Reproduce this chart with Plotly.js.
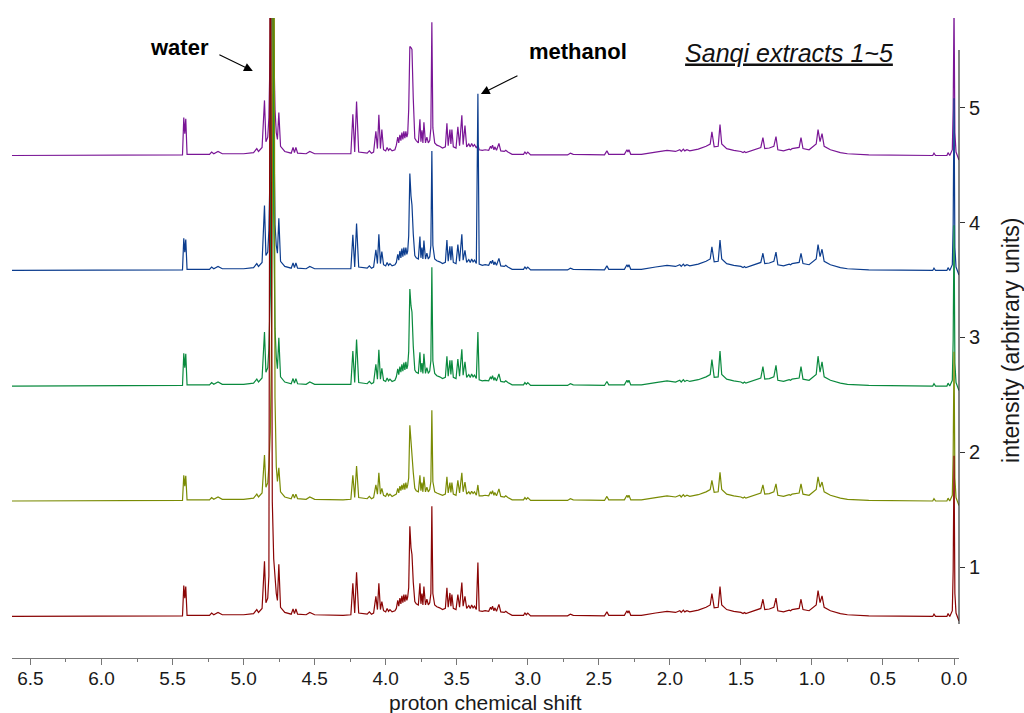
<!DOCTYPE html>
<html>
<head>
<meta charset="utf-8">
<script src="https://cdn.plot.ly/plotly-3.0.1.min.js"></script>
<style>html,body{margin:0;padding:0;background:#fff;}#chart{width:1024px;height:713px;}</style>
</head>
<body>
<div id="chart"></div>
<script>
// chemical shift (ppm) sample points shared by all spectra
const ppm = [6.63,5.43,5.421,5.414,5.407,5.398,5.24,5.225,5.21,5.18,
5.15,5.0,4.93,4.907,4.895,4.87,4.853,4.843,4.83,4.822,
4.812,4.805,4.798,4.788,4.779,4.77,4.762,4.752,4.74,4.71,
4.665,4.652,4.642,4.632,4.62,4.56,4.534,4.5,4.3,4.245,
4.231,4.218,4.205,4.19,4.13,4.115,4.1,4.085,4.069,4.058,
4.048,4.037,4.027,4.015,4.0,3.99,3.98,3.97,3.955,3.935,
3.925,3.915,3.908,3.9,3.893,3.886,3.879,3.872,3.865,3.858,
3.851,3.845,3.838,3.83,3.822,3.815,3.806,3.795,3.785,3.77,
3.759,3.752,3.745,3.738,3.731,3.72,3.71,3.7,3.69,3.682,
3.675,3.668,3.655,3.64,3.62,3.6,3.58,3.569,3.56,3.548,
3.541,3.534,3.524,3.505,3.492,3.48,3.464,3.455,3.442,3.43,
3.415,3.405,3.395,3.385,3.375,3.362,3.351,3.342,3.32,3.3,
3.275,3.262,3.255,3.248,3.238,3.232,3.22,3.203,3.19,3.165,
3.155,3.14,3.11,3.03,3.02,3.01,3.0,2.98,2.72,2.7,
2.68,2.46,2.443,2.43,2.32,2.302,2.295,2.288,2.275,2.2,
2.1,2.02,1.96,1.93,1.92,1.905,1.895,1.88,1.86,1.8,
1.745,1.716,1.704,1.688,1.66,1.647,1.635,1.6,1.55,1.5,
1.485,1.475,1.465,1.42,1.36,1.345,1.332,1.3,1.268,1.253,
1.24,1.2,1.16,1.15,1.14,1.09,1.077,1.063,1.02,0.97,
0.957,0.943,0.929,0.914,0.87,0.8,0.75,0.6,0.4,0.15,
0.141,0.13,0.05,0.042,0.03,0.012,0.006,0.0,-0.006,-0.014,
-0.035];

// intensities above each spectrum's own baseline (axis units)
const extract1 = [0,.005,.27,.16,.26,.01,.01,.03,.015,.035,
.015,.015,.025,.06,.035,.07,.48,.12,.16,.35,
7,2.5,1.0,.5,.3,.2,.14,.455,.08,.035,
.02,.065,.025,.065,.02,.015,.035,.015,.01,.015,
.29,.03,.385,.03,.02,.04,.02,.03,.175,.06,
.29,.06,.13,.05,.04,.07,.045,.06,.04,.05,
.07,.14,.09,.16,.11,.18,.12,.19,.13,.19,
.14,.17,.25,.785,.6,.54,.3,.13,.11,.1,
.29,.11,.2,.1,.26,.1,.15,.1,.12,.2,
.96,.2,.1,.085,.075,.06,.07,.25,.08,.205,
.09,.19,.07,.06,.19,.08,.295,.09,.175,.07,
.095,.07,.1,.075,.09,.06,.47,.05,.045,.05,
.045,.08,.06,.09,.05,.075,.045,.105,.04,.035,
.045,.03,.01,.01,.03,.015,.03,.005,.005,.02,
.01,.005,.04,.01,.01,.05,.03,.05,.01,.01,
.03,.045,.035,.05,.035,.055,.04,.05,.04,.055,
.08,.1,.2,.075,.08,.26,.1,.06,.045,.035,
.025,.035,.025,.045,.07,.15,.06,.065,.08,.16,
.05,.04,.055,.05,.06,.07,.15,.06,.05,.1,
.225,.12,.18,.08,.05,.025,.015,.005,0,0,
.02,0,0,.025,0,.05,.4,1.4,.2,.03,
-.04];

const extract2 = [0,.005,.225,.13,.22,.01,.01,.03,.015,.035,
.015,.015,.025,.06,.035,.07,.40,.12,.16,.3,
.6,1.2,2.5,7,.9,.3,.17,.29,.08,.035,
.02,.06,.025,.06,.02,.015,.035,.015,.01,.015,
.225,.03,.305,.03,.02,.04,.02,.03,.14,.06,
.245,.06,.11,.05,.04,.07,.045,.06,.04,.05,
.06,.11,.07,.13,.09,.14,.1,.155,.1,.16,
.11,.14,.2,.66,.5,.445,.25,.11,.09,.08,
.225,.09,.16,.08,.21,.08,.12,.08,.1,.17,
.79,.17,.08,.07,.06,.05,.06,.21,.07,.16,
.075,.16,.06,.05,.18,.07,.245,.08,.165,.06,
.08,.06,.085,.065,.08,.05,.14,.045,.045,.05,
.045,.08,.06,.09,.05,.075,.045,.105,.04,.035,
.045,.03,.01,.01,.03,.015,.03,.005,.005,.02,
.01,.005,.04,.01,.01,.05,.03,.05,.01,.01,
.03,.045,.035,.05,.035,.055,.04,.05,.04,.055,
.08,.1,.18,.075,.08,.25,.1,.06,.045,.035,
.025,.035,.025,.045,.07,.14,.06,.065,.08,.15,
.05,.04,.055,.05,.06,.07,.15,.06,.05,.1,
.21,.12,.165,.08,.05,.025,.015,.005,0,0,
.02,0,0,.025,0,.05,.4,1.3,.2,.03,
-.04];

const extract3 = [0,.005,.285,.16,.28,.01,.01,.03,.015,.035,
.015,.015,.025,.06,.035,.07,.47,.12,.16,.33,
.8,2,7,1.5,.5,.25,.15,.42,.08,.035,
.02,.065,.025,.065,.02,.015,.035,.015,.01,.015,
.305,.03,.405,.03,.02,.04,.02,.03,.19,.06,
.315,.06,.155,.05,.04,.07,.045,.06,.04,.05,
.08,.15,.10,.17,.12,.19,.13,.205,.14,.21,
.15,.18,.3,.845,.7,.645,.35,.14,.12,.11,
.295,.12,.2,.11,.28,.11,.16,.11,.13,.22,
1.035,.22,.11,.09,.08,.065,.075,.26,.085,.225,
.1,.225,.075,.065,.235,.085,.32,.095,.21,.075,
.1,.075,.105,.08,.095,.065,.47,.055,.045,.05,
.045,.08,.06,.09,.05,.075,.045,.105,.04,.035,
.045,.03,.01,.01,.03,.015,.03,.005,.005,.02,
.01,.005,.04,.01,.01,.05,.03,.05,.01,.01,
.03,.045,.035,.05,.035,.055,.04,.05,.04,.055,
.08,.1,.23,.075,.08,.305,.1,.06,.045,.035,
.025,.035,.025,.045,.07,.17,.06,.065,.08,.18,
.05,.04,.055,.05,.06,.07,.17,.06,.05,.1,
.26,.12,.21,.08,.05,.025,.015,.005,0,0,
.02,0,0,.025,0,.05,.4,1.4,.2,.03,
-.04];

const extract4 = [0,.005,.28,.16,.27,.01,.01,.03,.015,.035,
.015,.015,.025,.06,.035,.07,.565,.13,.16,.35,
1.0,7,2.5,1.0,.4,.22,.15,.455,.08,.035,
.02,.065,.025,.065,.02,.015,.035,.015,.01,.015,
.31,.03,.41,.03,.02,.04,.02,.03,.18,.06,
.315,.06,.165,.05,.04,.07,.045,.06,.04,.05,
.07,.14,.09,.17,.11,.19,.12,.2,.13,.2,
.14,.17,.3,.845,.65,.57,.32,.13,.11,.1,
.295,.11,.2,.1,.26,.1,.15,.1,.12,.22,
1.04,.22,.1,.085,.075,.06,.07,.265,.08,.21,
.09,.21,.07,.06,.225,.08,.315,.09,.175,.07,
.095,.07,.1,.075,.09,.06,1.54,.055,.045,.05,
.045,.08,.06,.09,.05,.075,.045,.105,.04,.035,
.045,.03,.01,.01,.03,.015,.03,.005,.005,.02,
.01,.005,.04,.01,.01,.05,.03,.05,.01,.01,
.03,.045,.035,.05,.035,.055,.04,.05,.04,.055,
.08,.1,.205,.075,.08,.265,.1,.06,.045,.035,
.025,.035,.025,.045,.07,.15,.06,.065,.08,.16,
.05,.04,.055,.05,.06,.07,.15,.06,.05,.1,
.225,.12,.185,.08,.05,.025,.015,.005,0,0,
.02,0,0,.025,0,.05,.4,1.5,.2,.03,
-.04];

const extract5 = [0,.005,.33,.19,.32,.01,.01,.03,.015,.035,
.015,.015,.025,.06,.035,.07,.48,.12,.16,.33,
1.0,7,2.5,1.0,.4,.2,.14,.375,.08,.035,
.02,.07,.025,.07,.02,.015,.035,.015,.01,.015,
.36,.03,.47,.03,.02,.04,.02,.03,.21,.06,
.355,.06,.225,.05,.04,.07,.045,.06,.04,.05,
.09,.16,.11,.18,.13,.2,.14,.21,.15,.21,
.16,.19,.4,.95,.94,.925,.5,.15,.13,.11,
.315,.12,.22,.11,.29,.11,.16,.11,.13,.24,
1.16,.24,.11,.09,.08,.065,.075,.28,.085,.225,
.1,.225,.075,.065,.25,.085,.35,.095,.26,.075,
.1,.075,.105,.08,.095,.065,.09,.05,.045,.05,
.045,.08,.06,.09,.05,.075,.045,.105,.04,.035,
.045,.03,.01,.01,.03,.015,.03,.005,.005,.02,
.01,.005,.04,.01,.01,.05,.03,.05,.01,.01,
.03,.045,.035,.05,.035,.055,.04,.05,.04,.055,
.08,.1,.205,.075,.08,.27,.1,.06,.045,.035,
.025,.035,.025,.045,.07,.155,.06,.065,.08,.165,
.05,.04,.055,.05,.06,.07,.155,.06,.05,.1,
.225,.12,.19,.08,.05,.025,.015,.005,0,0,
.02,0,0,.025,0,.05,.4,1.3,.2,.03,
-.04];

// stacking baselines and labels of the five extracts
const baselines = [0.569, 1.575, 2.577, 3.584, 4.586];
const spectra = [extract1, extract2, extract3, extract4, extract5];
const tickLabels = ['1', '2', '3', '4', '5'];
const tickPositions = [1, 2, 3, 4, 5];
const colors = ['#8a0505', '#7a8b04', '#0a8a3e', '#0c3d8e', '#7a1696'];

const font = 'Arial, "Liberation Sans", sans-serif';

const traces = [];
for (let k = spectra.length - 1; k >= 0; k--) {
  traces.push({
    type: 'scatter', mode: 'lines',
    x: ppm,
    y: spectra[k].map(v => v + baselines[k]),
    line: {color: colors[k], width: 1.2},
    name: 'extract ' + tickLabels[k],
    hoverinfo: 'skip'
  });
}

const layout = {
  width: 1024, height: 713,
  margin: {l: 12, r: 65, t: 18, b: 55},
  paper_bgcolor: '#ffffff', plot_bgcolor: '#ffffff',
  showlegend: false,
  font: {family: font, color: '#1a1a1a'},
  title: {
    text: 'Sanqi extracts 1~5',
    font: {family: font, size: 25, style: 'italic', lineposition: 'under', color: '#111'},
    x: 0.7705, xref: 'container', xanchor: 'center',
    y: 0.926, yref: 'container', yanchor: 'middle'
  },
  xaxis: {
    range: [6.63, -0.035], autorange: false,
    showline: true, linecolor: '#777', linewidth: 1,
    ticks: 'outside', ticklen: 6, tickwidth: 1, tickcolor: '#777',
    dtick: 0.5, tick0: 0, tickformat: '.1f',
    tickfont: {family: font, size: 19, color: '#1a1a1a'},
    ticklabelstandoff: -3,
    showgrid: false, zeroline: false,
    minor: {dtick: 0.25, ticks: 'outside', ticklen: 3, tickcolor: '#777', showgrid: false}
  },
  yaxis: {
    range: [0.207, 5.784], autorange: false,
    side: 'right',
    tickvals: tickPositions, ticktext: tickLabels,
    ticks: 'outside', ticklen: 5, tickwidth: 1, tickcolor: '#333',
    tickfont: {family: font, size: 20, color: '#1a1a1a'},
    showline: false, showgrid: false, zeroline: false
  },
  shapes: [{
    type: 'line', xref: 'paper', yref: 'y',
    x0: 1, x1: 1, y0: 0.503, y1: 5.505,
    line: {color: '#333', width: 1.2}
  }],
  annotations: [
    {text: 'proton chemical shift', xref: 'paper', yref: 'paper', x: 0.5, y: -0.0688,
     showarrow: false, xanchor: 'center', yanchor: 'middle',
     font: {family: font, size: 21, color: '#1a1a1a'}},
    {text: '<b>water</b>', xref: 'x', yref: 'y', x: 5.449, y: 5.523, showarrow: false,
     font: {family: font, size: 22, color: '#000'}},
    {text: '', xref: 'x', yref: 'y', x: 4.935, y: 5.322, axref: 'x', ayref: 'y', ax: 5.181, ay: 5.471,
     showarrow: true, arrowhead: 2, arrowsize: 1.6, arrowwidth: 1.1, arrowcolor: '#000'},
    {text: '<b>methanol</b>', xref: 'x', yref: 'y', x: 2.647, y: 5.488, showarrow: false,
     font: {family: font, size: 22, color: '#000'}},
    {text: '', xref: 'x', yref: 'y', x: 3.33, y: 5.122, axref: 'x', ayref: 'y', ax: 3.062, ay: 5.288,
     showarrow: true, arrowhead: 2, arrowsize: 1.6, arrowwidth: 1.1, arrowcolor: '#000'},
    {text: 'intensity (arbitrary units)', xref: 'paper', yref: 'paper', x: 1.0549, y: 0.497,
     textangle: -90, showarrow: false, xanchor: 'center', yanchor: 'middle',
     font: {family: font, size: 23, color: '#1a1a1a'}}
  ]
};

Plotly.newPlot('chart', traces, layout, {displayModeBar: false, staticPlot: true});
</script>
</body>
</html>
